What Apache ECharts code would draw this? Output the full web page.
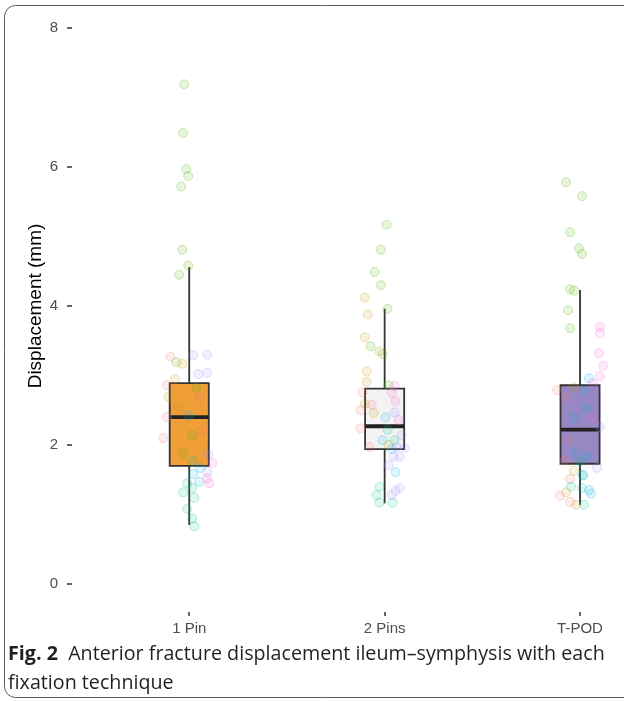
<!DOCTYPE html>
<html>
<head>
    <meta charset="UTF-8">
    <title>Fig. 2</title>
    <script src="https://cdn.jsdelivr.net/npm/echarts@6/dist/echarts.min.js"></script>
    <style>
        html, body { margin: 0; padding: 0; background: #fff; }
    </style>
</head>
<body>
<div id="chart" style="width:624px; height:701px;"></div>
<script>
    // categories and box stats [low, q1, median, q3, high]
    var categories = ['1 Pin', '2 Pins', 'T-POD'];
    var catPositions = [0, 1, 2];
    var boxStats = [
        [0.85, 1.70, 2.40, 2.89, 4.56],
        [1.16, 1.94, 2.27, 2.81, 3.96],
        [1.14, 1.73, 2.22, 2.86, 4.23]
    ];
    var boxColors = ['#EF9E38', '#F3F3F3', '#9787C3'];
    var yTicks = [0, 2, 4, 6, 8];

    // point groups (ggplot hue palette)
    var groupColors = ['248,118,109', '196,154,0', '83,180,0', '0,192,148', '0,182,235', '165,138,255', '251,97,215'];

    // 1 Pin points: value, jitter (category units), group
    var pin1Values = [7.19, 6.49, 5.97, 5.87, 5.72, 4.81, 4.58, 4.45, 3.27, 3.19, 3.17, 3.29, 3.30, 3.02, 3.04,
        2.95, 2.86, 2.82, 2.68, 2.69, 2.55, 2.40, 2.42, 2.21, 2.14, 2.10, 1.88, 1.77, 1.86, 1.74, 1.67,
        1.61, 1.58, 1.45, 1.52, 1.47, 1.45, 1.38, 1.32, 1.24, 1.08, 0.94, 0.83];
    var pin1Jitter = [-0.026, -0.031, -0.015, -0.005, -0.041, -0.036, -0.005, -0.051, -0.097, -0.066, -0.036, 0.020, 0.092, 0.046, 0.092,
        -0.072, -0.113, 0.036, 0.056, -0.107, -0.056, -0.113, -0.005, 0.066, 0.015, -0.133, -0.031, 0.020, 0.097, 0.118, 0.056,
        0.092, 0.020, 0.102, 0.092, 0.051, -0.010, 0.015, -0.031, 0.026, -0.010, 0.015, 0.026];
    var pin1Group = [2, 2, 2, 2, 2, 2, 2, 2, 0, 2, 1, 5, 5, 5, 5,
        1, 0, 2, 0, 1, 1, 0, 4, 0, 2, 0, 2, 3, 5, 6, 4,
        5, 4, 6, 6, 4, 3, 3, 3, 3, 3, 3, 3];

    // 2 Pins points
    var pins2Values = [5.17, 4.81, 4.49, 4.30, 4.12, 3.96, 3.88, 3.55, 3.42, 3.35, 3.31, 3.06, 2.91, 2.86, 2.85,
        2.76, 2.75, 2.63, 2.59, 2.58, 2.50, 2.46, 2.47, 2.40, 2.36, 2.24, 2.22, 2.14, 2.07, 2.07, 2.00,
        1.97, 1.97, 1.94, 1.96, 1.83, 1.83, 1.71, 1.61, 1.40, 1.38, 1.34, 1.28, 1.28, 1.17, 1.17];
    var pins2Jitter = [0.010, -0.020, -0.051, -0.020, -0.102, 0.015, -0.087, -0.102, -0.072, -0.026, -0.010, -0.092, -0.092, 0.020, 0.051,
        -0.113, 0.036, 0.056, -0.102, -0.066, -0.123, -0.056, 0.051, 0.005, 0.072, -0.123, 0.015, 0.087, -0.010, 0.051, 0.020,
        0.061, -0.077, 0.036, 0.102, 0.046, 0.077, 0.020, 0.056, -0.026, 0.077, 0.056, -0.041, 0.036, -0.026, 0.041];
    var pins2Group = [2, 2, 2, 2, 1, 2, 1, 1, 2, 1, 2, 1, 1, 2, 6,
        0, 6, 6, 1, 0, 0, 1, 5, 4, 6, 0, 3, 5, 4, 3, 1,
        5, 0, 4, 5, 5, 5, 5, 4, 3, 5, 5, 3, 5, 3, 3];

    // T-POD points
    var tpodValues = [5.78, 5.58, 5.06, 4.83, 4.75, 4.24, 4.22, 3.94, 3.68, 3.70, 3.61, 3.32, 3.14, 2.99, 2.96,
        2.89, 2.83, 2.79, 2.78, 2.69, 2.52, 2.39, 2.40, 2.26, 2.07, 1.88, 1.84, 1.78, 1.76, 1.67, 1.63,
        1.57, 1.56, 1.51, 1.40, 1.38, 1.35, 1.30, 1.32, 1.27, 1.18, 1.14, 1.14];
    var tpodJitter = [-0.072, 0.010, -0.051, -0.005, 0.010, -0.051, -0.031, -0.061, -0.051, 0.102, 0.102, 0.097, 0.118, 0.102, 0.046,
        0.066, -0.031, -0.118, 0.020, -0.072, 0.031, -0.031, 0.061, 0.102, -0.061, -0.026, 0.031, -0.077, 0.000, 0.087, -0.031,
        0.015, 0.015, -0.051, -0.046, 0.010, 0.046, 0.056, -0.072, -0.102, -0.051, -0.020, 0.020];
    var tpodGroup = [2, 2, 2, 2, 2, 2, 2, 2, 2, 6, 6, 6, 6, 6, 4,
        6, 1, 0, 4, 0, 4, 4, 6, 5, 0, 4, 4, 0, 3, 5, 1,
        4, 3, 0, 3, 3, 4, 4, 1, 0, 0, 1, 3];

    function buildPoints(catIndex, values, jitter, groups) {
        return values.map(function (v, i) {
            var c = groupColors[groups[i]];
            return {
                value: [catIndex + jitter[i], v],
                itemStyle: {
                    color: 'rgba(' + c + ',0.17)',
                    borderColor: 'rgba(' + c + ',0.34)',
                    borderWidth: 1
                }
            };
        });
    }

    var points = []
        .concat(buildPoints(0, pin1Values, pin1Jitter, pin1Group))
        .concat(buildPoints(1, pins2Values, pins2Jitter, pins2Group))
        .concat(buildPoints(2, tpodValues, tpodJitter, tpodGroup));

    var boxData = boxStats.map(function (s, i) {
        return [catPositions[i]].concat(s);
    });

    // ggplot-like box: whiskers, box, thick median
    function renderBox(params, api) {
        var idx = api.value(0);
        var half = api.size([1, 0])[0] * 0.1;
        var low = api.coord([idx, api.value(1)]);
        var q1 = api.coord([idx, api.value(2)]);
        var med = api.coord([idx, api.value(3)]);
        var q3 = api.coord([idx, api.value(4)]);
        var high = api.coord([idx, api.value(5)]);
        var x = low[0];
        var line = {stroke: '#333333', lineWidth: 1.8};
        return {
            type: 'group',
            children: [
                {type: 'line', shape: {x1: x, y1: low[1], x2: x, y2: q1[1]}, style: line},
                {type: 'line', shape: {x1: x, y1: q3[1], x2: x, y2: high[1]}, style: line},
                {
                    type: 'rect',
                    shape: {x: x - half, y: q3[1], width: half * 2, height: q1[1] - q3[1]},
                    style: {fill: boxColors[params.dataIndex], stroke: '#333333', lineWidth: 1.8}
                },
                {type: 'line', shape: {x1: x - half, y1: med[1], x2: x + half, y2: med[1]}, style: {stroke: '#222222', lineWidth: 3.8}}
            ]
        };
    }

    var chart = echarts.init(document.getElementById('chart'), null, {renderer: 'canvas'});
    var option = {
        backgroundColor: '#ffffff',
        animation: false,
        grid: {
            left: 72,
            right: 0,
            top: 28,
            height: 556,
            containLabel: false
        },
        // discrete axis with ggplot expansion (0.6) on the left; picture is cropped on the right
        xAxis: {
            type: 'value',
            min: -0.6,
            max: 2.225,
            position: 'bottom',
            offset: 28,
            axisLine: {show: false, onZero: false},
            axisTick: {show: true, customValues: catPositions, length: 4, lineStyle: {color: '#333333', width: 1.5}},
            axisLabel: {
                customValues: catPositions,
                color: '#4d4d4d', fontSize: 15, margin: 9, fontFamily: 'Liberation Sans',
                formatter: function (v) { return categories[Math.round(v)]; }
            },
            splitLine: {show: false}
        },
        yAxis: {
            type: 'value',
            min: 0,
            max: 8,
            interval: 2,
            name: 'Displacement (mm)',
            nameLocation: 'middle',
            nameGap: 27,
            nameMoveOverlap: false,
            nameTextStyle: {color: '#000000', fontSize: 19, fontFamily: 'Liberation Sans'},
            axisLine: {show: false, onZero: false},
            axisTick: {show: true, length: 5, lineStyle: {color: '#333333', width: 1.5}},
            axisLabel: {
                color: '#4d4d4d', fontSize: 15, margin: 14, fontFamily: 'Liberation Sans',
                formatter: function (v) { return yTicks.indexOf(v) >= 0 ? String(v) : ''; }
            },
            splitLine: {show: false}
        },
        graphic: [
            {
                type: 'rect',
                shape: {x: 4.5, y: 5.5, width: 720, height: 692, r: 11},
                style: {fill: 'none', stroke: '#5a5a5a', lineWidth: 1},
                silent: true
            },
            {
                type: 'text',
                left: 8,
                top: 640,
                style: {
                    text: '{b|Fig. 2}  Anterior fracture displacement ileum–symphysis with each\nfixation technique',
                    fill: '#231f20',
                    font: '19.7px "Open Sans"',
                    lineHeight: 29,
                    rich: {
                        b: {fontWeight: 'bold', fontSize: 19.7, fontFamily: 'Open Sans', fill: '#231f20', lineHeight: 29}
                    }
                }
            }
        ],
        series: [
            {
                type: 'custom',
                renderItem: renderBox,
                encode: {x: 0, y: [1, 2, 3, 4, 5]},
                data: boxData,
                z: 2
            },
            {
                type: 'scatter',
                symbolSize: 9,
                data: points,
                z: 3
            }
        ]
    };
    chart.setOption(option);
</script>
</body>
</html>
